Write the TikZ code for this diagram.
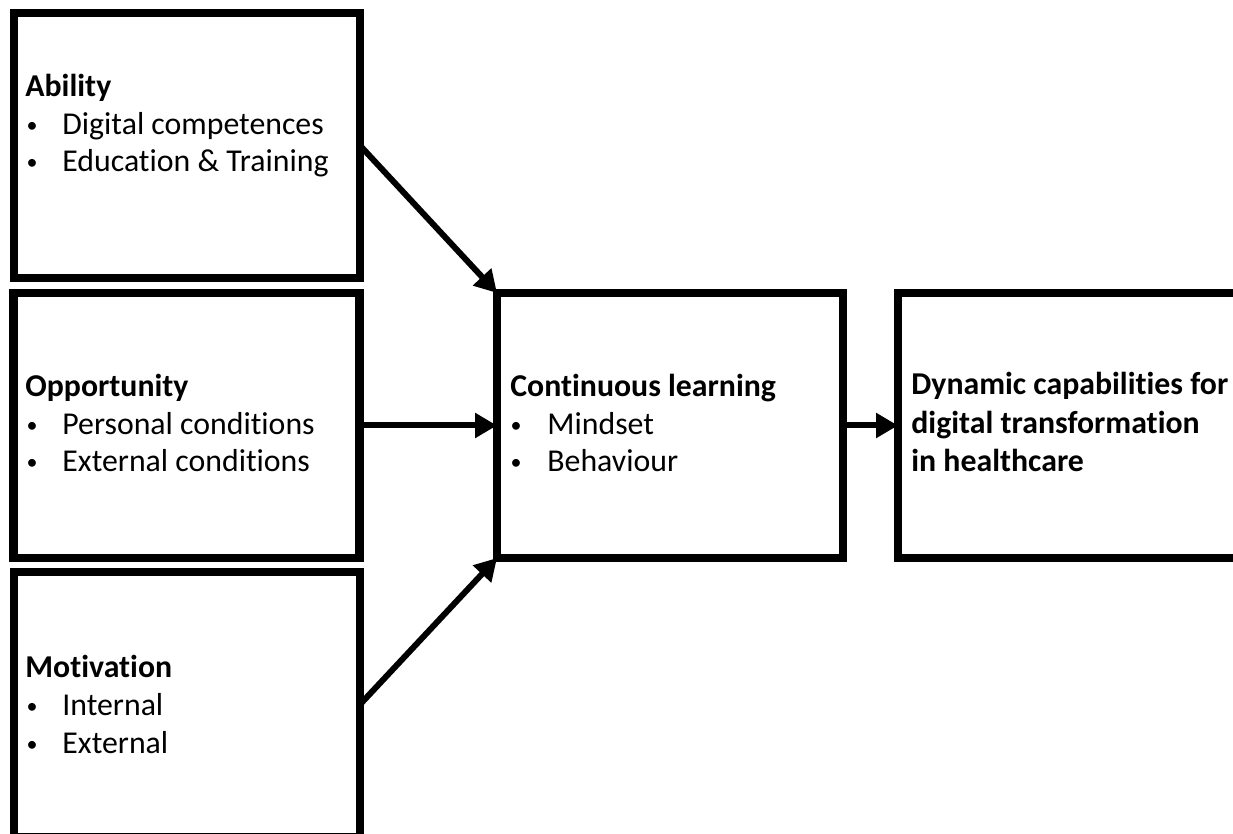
\documentclass[tikz,border=0pt]{standalone}
\usepackage{fontspec}
\setmainfont[Ligatures={NoCommon}]{Carlito}
\usetikzlibrary{arrows.meta}
\begin{document}
\begin{tikzpicture}[x=0.5pt,y=-0.5pt,
  box/.style={draw=black,line width=4.3pt,minimum width=173pt,minimum height=132.5pt,inner sep=0pt,outer sep=0pt},
  txt/.style={anchor=base west,inner sep=0pt,font=\fontsize{15.9pt}{19pt}\selectfont},
  bul/.style={anchor=base,inner sep=0pt,font=\fontsize{11pt}{13pt}\selectfont},
  ttl/.style={txt,font=\fontsize{15.9pt}{19pt}\selectfont\bfseries},
  conn/.style={line width=3pt,-{Triangle[length=11pt,width=12pt]}}]
\useasboundingbox (0,0) rectangle (1233,834);
\clip (0,0) rectangle (1233,834);
% boxes
\node[box] (abil) at (187,145.5) {};
\node[box] (opp) at (186.5,425.5) {};
\node[box] (mot) at (187,704.5) {};
\node[box] (cl) at (670,425.5) {};
\node[box] (dyn) at (1071,425.5) {};
% Ability
\node[ttl] (t1) at (25,97) {Ability};
\node[bul] (b11) at (32,133) {•};
\node[txt] (i11) at (62,135) {Digital competences};
\node[bul] (b12) at (32,170) {•};
\node[txt] (i12) at (62,172) {Education \& Training};
% Opportunity
\node[ttl] (t2) at (25,397) {Opportunity};
\node[bul] (b21) at (32,433) {•};
\node[txt] (i21) at (62,435) {Personal conditions};
\node[bul] (b22) at (32,470) {•};
\node[txt] (i22) at (62,472) {External conditions};
% Motivation
\node[ttl] (t3) at (25,677) {Motivation};
\node[bul] (b31) at (32,713) {•};
\node[txt] (i31) at (62,715) {Internal};
\node[bul] (b32) at (32,751) {•};
\node[txt] (i32) at (62,753) {External};
% Continuous learning
\node[ttl] (t4) at (510,397) {Continuous learning};
\node[bul] (b41) at (516,433) {•};
\node[txt] (i41) at (547,435) {Mindset};
\node[bul] (b42) at (516,470) {•};
\node[txt] (i42) at (547,472) {Behaviour};
% Dynamic
\node[ttl] (t5) at (911,395) {Dynamic capabilities for};
\node[ttl] (t6) at (911,434) {digital transformation};
\node[ttl] (t7) at (911,472) {in healthcare};
% connectors
\draw[conn] (abil.east) -- (cl.north west);
\draw[conn] (opp.east) -- (cl.west);
\draw[conn] (mot.east) -- (cl.south west);
\draw[conn] (cl.east) -- (dyn.west);
\end{tikzpicture}
\end{document}
